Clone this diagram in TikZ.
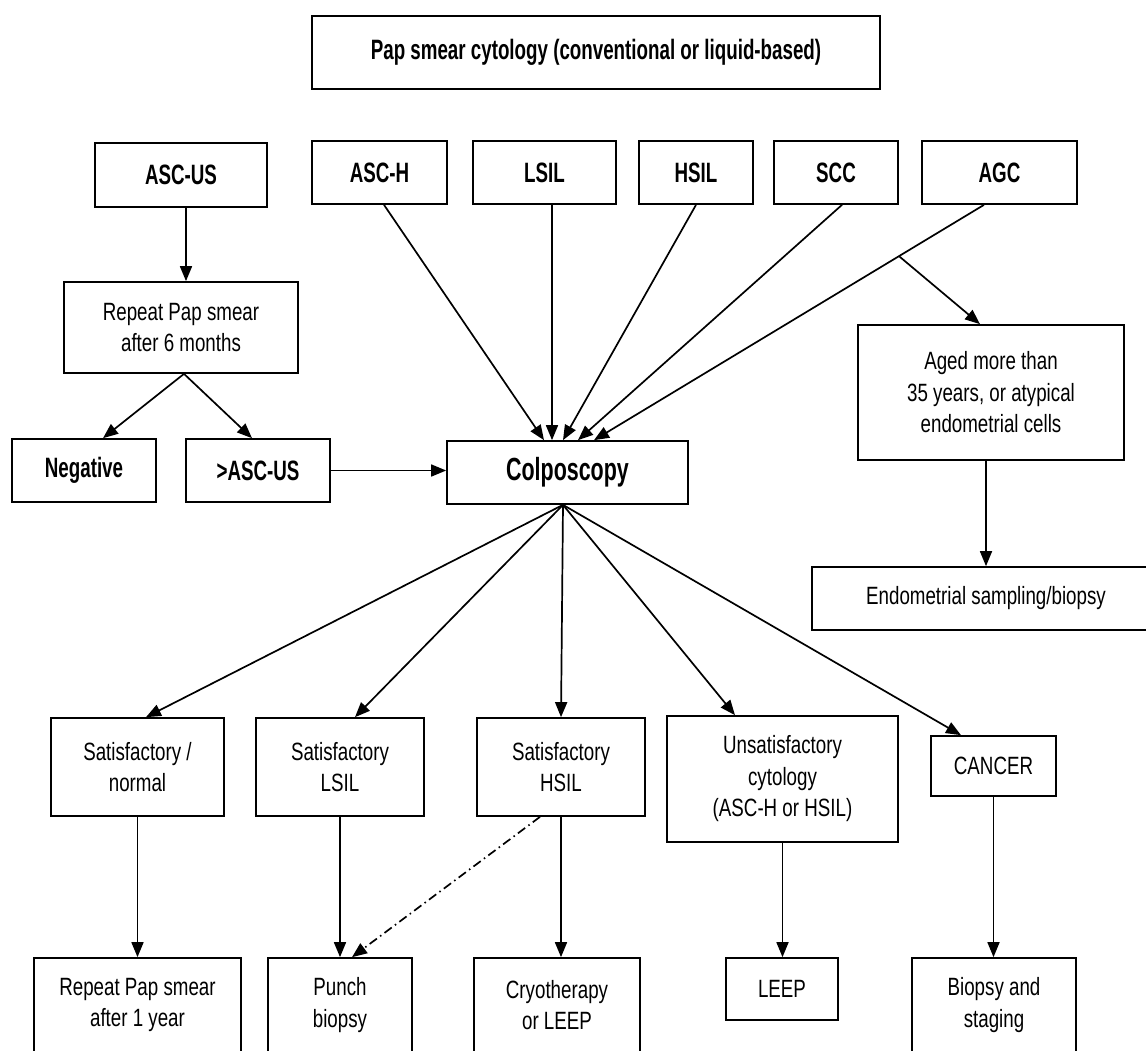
\documentclass[tikz,border=0pt]{standalone}
\usepackage{fontspec}
\setmainfont{Liberation Sans}[FakeStretch=0.75]
\newfontfamily\bcond{Liberation Sans}[FakeStretch=0.67]
\usetikzlibrary{arrows.meta,calc}
\tikzset{
 box/.style={draw, line width=1.7pt, inner sep=0pt, align=center, font={\fontsize{25}{31.5}\selectfont}},
 bbox/.style={box, font={\fontsize{28}{32}\bcond\bfseries}},
 arr/.style={line width=1.7pt, -{Triangle[length=15pt,width=12pt]}},
 dd/.style={line width=1.7pt, dash pattern=on 9pt off 4pt on 1.5pt off 4pt, -{Triangle[length=15pt,width=12pt]}},
}
\begin{document}
\begin{tikzpicture}[x=1pt,y=-1pt]
\useasboundingbox (0,0) rectangle (1146,1050);
\clip (0,0) rectangle (1146,1050);
% top
\node[bbox, minimum width=568pt, minimum height=73pt] (top) at (596,52.5) {Pap smear cytology (conventional or liquid-based)};
% cytology results
\node[bbox, minimum width=172pt, minimum height=64pt] (ascus) at (181,175) {ASC-US};
\node[bbox, minimum width=135pt, minimum height=63pt] (asch) at (379.5,172.5) {ASC-H};
\node[bbox, minimum width=143pt, minimum height=63pt] (lsil) at (544.5,172.5) {LSIL};
\node[bbox, minimum width=114pt, minimum height=63pt] (hsil) at (696,172.5) {HSIL};
\node[bbox, minimum width=124pt, minimum height=63pt] (scc) at (836,172.5) {SCC};
\node[bbox, minimum width=155pt, minimum height=63pt] (agc) at (999.5,172.5) {AGC};
% left branch
\node[box, minimum width=234pt, minimum height=91pt] (rep6) at (181,327.5) {Repeat Pap smear\\after 6 months};
\node[bbox, minimum width=144pt, minimum height=63pt] (neg) at (84,470.5) {Negative};
\node[bbox, minimum width=144pt, minimum height=63pt] (gt) at (258,470.5) {>ASC-US};
% colposcopy
\node[box, minimum width=241pt, minimum height=63pt, font={\fontsize{32}{36}\bcond\bfseries}] (colp) at (567.5,472.5) {Colposcopy};
% right branch
\node[box, minimum width=266pt, minimum height=135pt] (aged) at (991,392.5) {Aged more than\\35 years, or atypical\\endometrial cells};
\node[box, minimum width=348pt, minimum height=63pt] (endo) at (986,598.5) {Endometrial sampling/biopsy};
% colposcopy results
\node[box, minimum width=173pt, minimum height=98pt] (sat1) at (137.5,767) {Satisfactory /\\normal};
\node[box, minimum width=168pt, minimum height=98pt] (sat2) at (340,767) {Satisfactory\\LSIL};
\node[box, minimum width=168pt, minimum height=98pt] (sat3) at (561,767) {Satisfactory\\HSIL};
\node[box, minimum width=231pt, minimum height=126pt] (unsat) at (782.5,779) {Unsatisfactory\\cytology\\(ASC-H or HSIL)};
\node[box, minimum width=125pt, minimum height=60pt] (cancer) at (993.5,766) {CANCER};
% management
\node[box, minimum width=207pt, minimum height=94pt] (rep1) at (137.5,1005) {Repeat Pap smear\\after 1 year};
\node[box, minimum width=144pt, minimum height=94pt] (punch) at (340,1005) {Punch\\biopsy};
\node[box, minimum width=166pt, minimum height=94pt] (cryo) at (557,1005) {Cryotherapy\\or LEEP};
\node[box, minimum width=112pt, minimum height=62pt] (leep) at (782,989) {LEEP};
\node[box, minimum width=164pt, minimum height=94pt] (biop) at (994,1005) {Biopsy and\\staging};
% connectors
\draw[arr] ([xshift=5pt]ascus.south) -- ([xshift=5pt]rep6.north);
\draw[arr] ([xshift=3pt]rep6.south) -- ([xshift=19pt]neg.north);
\draw[arr] ([xshift=3pt]rep6.south) -- ([xshift=-6pt]gt.north);
\draw[arr] (gt.east) -- (gt.east -| colp.west);
\draw[arr] ([xshift=4.5pt]asch.south) -- ([xshift=-23.5pt]colp.north);
\draw[arr] ([xshift=7.5pt]lsil.south) -- ([xshift=-15.5pt]colp.north);
\draw[arr] (hsil.south) -- ([xshift=-4.5pt]colp.north);
\draw[arr] ([xshift=6pt]scc.south) -- ([xshift=10.5pt]colp.north);
\draw[arr] ([xshift=-15.5pt]agc.south) -- ([xshift=26.5pt]colp.north);
\coordinate (br) at ($([xshift=-15.5pt]agc.south)!0.218!([xshift=26.5pt]colp.north)$);
\draw[arr] (br) -- ([xshift=-11pt]aged.north);
\draw[arr] ([xshift=-5pt]aged.south) -- ([xshift=-5pt]aged.south |- endo.north);
\draw[arr] ([xshift=-4.5pt]colp.south) -- ([xshift=8.5pt]sat1.north);
\draw[arr] ([xshift=-4.5pt]colp.south) -- ([xshift=15pt]sat2.north);
\draw[arr] ([xshift=-4.5pt]colp.south) -- (sat3.north);
\draw[arr] ([xshift=-4.5pt]colp.south) -- ([xshift=-47.5pt]unsat.north);
\draw[arr] ([xshift=-4.5pt]colp.south) -- ([xshift=-32.5pt]cancer.north);
\draw[arr] (sat1.south) -- (rep1.north);
\draw[arr] (sat2.south) -- (punch.north);
\draw[arr] (sat3.south) -- (sat3.south |- cryo.north);
\draw[arr] (unsat.south) -- (unsat.south |- leep.north);
\draw[arr] (cancer.south) -- (cancer.south |- biop.north);
\draw[dd] ([xshift=-21pt]sat3.south) -- ([xshift=12pt]punch.north);
\end{tikzpicture}
\end{document}
